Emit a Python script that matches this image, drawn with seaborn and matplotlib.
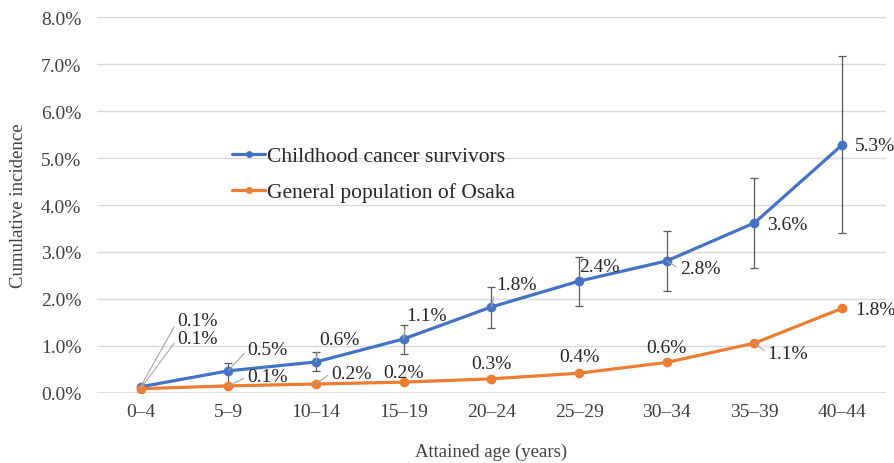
import numpy as np
import pandas as pd
import matplotlib
matplotlib.use("Agg")
import matplotlib.pyplot as plt
import seaborn as sns
from matplotlib.ticker import PercentFormatter

# ---- data ----
age_groups = ["0\u20134", "5\u20139", "10\u201314", "15\u201319", "20\u201324",
              "25\u201329", "30\u201334", "35\u201339", "40\u201344"]
survivors = [0.13, 0.47, 0.66, 1.15, 1.83, 2.38, 2.81, 3.62, 5.28]
survivors_low = [0.10, 0.15, 0.47, 0.83, 1.38, 1.85, 2.17, 2.66, 3.40]
survivors_high = [0.16, 0.63, 0.87, 1.45, 2.25, 2.89, 3.45, 4.57, 7.17]
osaka = [0.09, 0.15, 0.19, 0.23, 0.30, 0.42, 0.65, 1.06, 1.80]
survivors_labels = ["0.1%", "0.5%", "0.6%", "1.1%", "1.8%", "2.4%", "2.8%", "3.6%", "5.3%"]
osaka_labels = ["0.1%", "0.1%", "0.2%", "0.2%", "0.3%", "0.4%", "0.6%", "1.1%", "1.8%"]
series_names = ["Childhood cancer survivors", "General population of Osaka"]

# ---- layout (label offsets in pixels: dx, dy, ha, leader) ----
surv_off = [(37, 66, "left", True), (19, 21, "left", True), (3, 22, "left", True),
            (3, 23, "left", True), (5, 22, "left", True), (0, 15, "left", False),
            (13, -8, "left", True), (13, -2, "left", False), (13, -1, "left", False)]
osaka_off = [(37, 50, "left", True), (19, 9, "left", True), (15, 11, "left", True),
             (0, 10, "center", False), (0, 15, "center", False), (0, 17, "center", False),
             (0, 15, "center", False), (13, -10, "left", True), (13, -1, "left", False)]

blue = "#4472C4"
orange = "#ED7D31"

sns.set_theme(style="white")
plt.rcParams["font.family"] = ["Liberation Serif", "DejaVu Serif"]
plt.rcParams["text.color"] = "#262626"

df = pd.DataFrame({
    "age": age_groups * 2,
    "x": list(range(len(age_groups))) * 2,
    "value": survivors + osaka,
    "series": [series_names[0]] * len(age_groups) + [series_names[1]] * len(age_groups),
})

fig = plt.figure(figsize=(8.95, 4.64), dpi=100)
ax = fig.add_axes([0.108, 0.151, 0.882, 0.810])

xs = np.arange(len(age_groups))
yerr = [np.array(survivors) - np.array(survivors_low), np.array(survivors_high) - np.array(survivors)]
ax.errorbar(xs[1:], np.array(survivors)[1:], yerr=[yerr[0][1:], yerr[1][1:]], fmt="none",
            ecolor="#595959", elinewidth=0.9, capsize=2.7, capthick=0.9, zorder=2)

sns.lineplot(data=df, x="x", y="value", hue="series", palette=[blue, orange],
             marker="o", markersize=7, markeredgewidth=0, linewidth=2.3, ax=ax,
             zorder=3, legend=True)

ax.set_xlim(-0.5, len(age_groups) - 0.5)
ax.set_ylim(0, 8)
ax.set_yticks(np.arange(0, 9, 1))
ax.yaxis.set_major_formatter(PercentFormatter(decimals=1))
ax.set_xticks(xs)
ax.set_xticklabels(age_groups)
ax.tick_params(axis="both", labelsize=14, length=0, colors="#404040")
ax.tick_params(axis="y", pad=11)
ax.tick_params(axis="x", pad=7.5)
ax.grid(axis="y", color="#D9D9D9", linewidth=1)
for s in ["top", "right", "left", "bottom"]:
    ax.spines[s].set_visible(False)
ax.axhline(0, color="#D9D9D9", linewidth=1.2, zorder=1)

ax.set_xlabel("Attained age (years)", fontsize=13.5, color="#404040", labelpad=16)
ax.set_ylabel("Cumulative incidence", fontsize=13.5, color="#404040", labelpad=10)

def label(vals, labels, offs):
    for i, (v, t, (dx, dy, ha, leader)) in enumerate(zip(vals, labels, offs)):
        kw = {}
        if leader:
            kw["arrowprops"] = dict(arrowstyle="-", color="#A6A6A6", lw=0.8,
                                    shrinkA=0, shrinkB=0, relpos=(0, 0.5))
        ax.annotate(t, xy=(i, v), xytext=(dx, dy), textcoords="offset pixels",
                    ha=ha, va="center", fontsize=14, color="#262626", zorder=4, **kw)

label(survivors, survivors_labels, surv_off)
label(osaka, osaka_labels, osaka_off)

leg = ax.legend(loc="upper left", bbox_to_anchor=(0.161, 0.68), frameon=False,
                fontsize=15.5, handlelength=1.5, handletextpad=0.1, labelspacing=0.75,
                borderaxespad=0)
for h in leg.get_lines():
    h.set_markersize(5)

fig.savefig("out.png", dpi=100)
